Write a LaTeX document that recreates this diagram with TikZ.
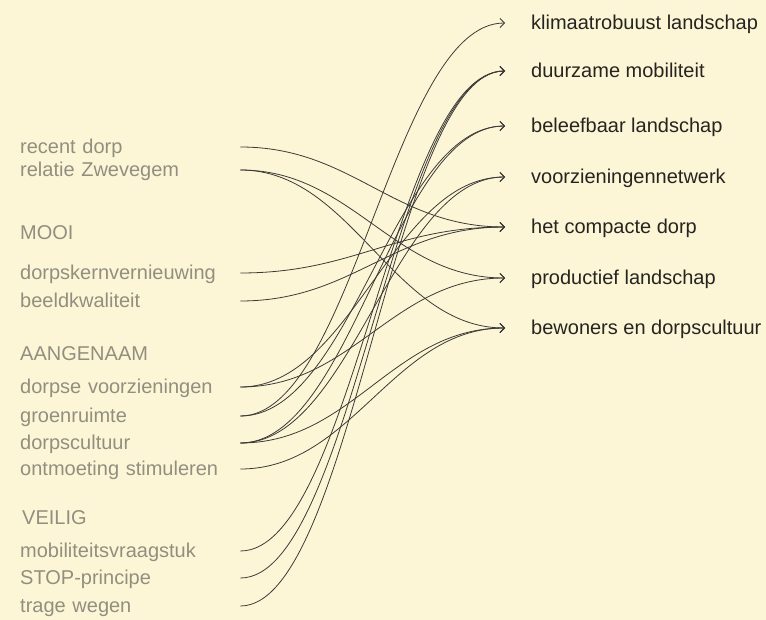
\documentclass[tikz,border=0pt]{standalone}
\usepackage{fontspec}
\setmainfont{Liberation Sans}
\usetikzlibrary{arrows.meta}
\definecolor{paper}{RGB}{253,246,214}
\definecolor{srcgrey}{RGB}{146,142,128}
\definecolor{goalink}{RGB}{38,36,33}
\tikzset{
  src/.style={anchor=west, inner sep=0pt, text width=220pt, align=left,
    text height=15pt, text depth=2pt, text=srcgrey, font=\fontsize{20}{23}\selectfont},
  head/.style={src},
  goal/.style={anchor=west, inner sep=0pt, text height=15pt, text depth=2pt,
    text=goalink, font=\fontsize{20}{23}\selectfont},
  link/.style={draw=goalink!90, line width=0.8pt, shorten >=26pt,
    -{Straight Barb[length=4.5pt,width=9pt]}}
}
\begin{document}
\begin{tikzpicture}[x=1pt, y=-1pt]
\def\xl{20}
\def\xr{531}
\def\bend{112}
\fill[paper] (0,0) rectangle (766,620);
\useasboundingbox (0,0) rectangle (766,620);

% left column
\node[src] (recent) at (\xl,147) {recent dorp};
\node[src] (relatie) at (\xl,170) {relatie Zwevegem};
\node[head] (mooi) at (\xl,233) {MOOI};
\node[src] (kern) at (\xl,273) {dorpskernvernieuwing};
\node[src] (beeld) at (\xl,301) {beeldkwaliteit};
\node[head] (aangenaam) at (\xl,354) {AANGENAAM};
\node[src] (voorz) at (\xl,387) {dorpse voorzieningen};
\node[src] (groen) at (\xl,416) {groenruimte};
\node[src] (cultuur) at (\xl,443) {dorpscultuur};
\node[src] (ontmoet) at (\xl,469) {ontmoeting stimuleren};
\node[head] (veilig) at (\xl+2,518) {VEILIG};
\node[src] (mob) at (\xl,551) {mobiliteitsvraagstuk};
\node[src] (stop) at (\xl,578) {STOP-principe};
\node[src] (trage) at (\xl,606) {trage wegen};

% right column
\node[goal] (klimaat) at (\xr,23) {klimaatrobuust landschap};
\node[goal] (duurzaam) at (\xr,71) {duurzame mobiliteit};
\node[goal] (beleef) at (\xr,126) {beleefbaar landschap};
\node[goal] (netwerk) at (\xr,177) {voorzieningennetwerk};
\node[goal] (compact) at (\xr,227) {het compacte dorp};
\node[goal] (product) at (\xr,278) {productief landschap};
\node[goal] (bewoner) at (\xr,328) {bewoners en dorpscultuur};

% edges
\foreach \a/\b in {recent/compact, relatie/product, relatie/bewoner,
    kern/compact, beeld/compact, voorz/netwerk, voorz/product,
    groen/klimaat, groen/beleef, cultuur/beleef, cultuur/netwerk,
    cultuur/bewoner, ontmoet/bewoner,
    mob/duurzaam, stop/duurzaam, trage/duurzaam}
  \draw[link] (\a.east) .. controls +(\bend,0) and +(-\bend-26,0) .. (\b.west);
\end{tikzpicture}
\end{document}
